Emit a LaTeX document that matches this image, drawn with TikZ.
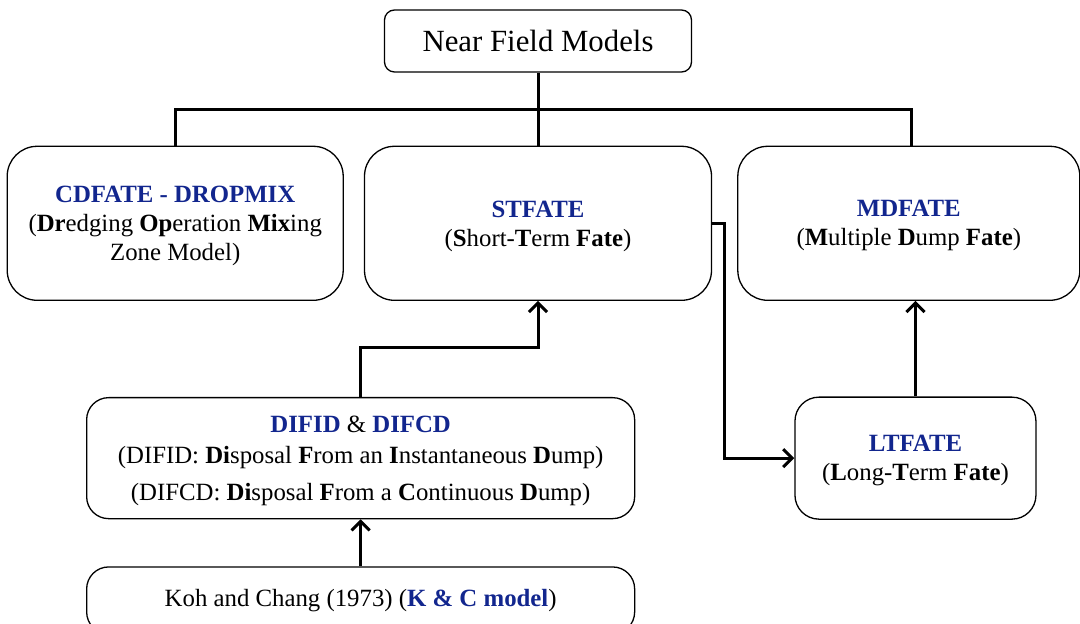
\documentclass[tikz,border=0pt]{standalone}
\usepackage{fontspec}
\setmainfont{Liberation Serif}
\usetikzlibrary{arrows.meta,positioning}
\definecolor{modelblue}{RGB}{18,38,142}
\newcommand{\mname}[1]{\textcolor{modelblue}{\textbf{#1}}}

\begin{document}
\begin{tikzpicture}[
		node distance=20pt,
		box/.style={draw, line width=0.65pt, fill=white, align=center, font=\fontsize{12.4}{14.5}\selectfont},
		lowered/.style={text depth=-3.5pt},
		rootbox/.style={box, rounded corners=5pt, minimum width=153.5pt, minimum height=31pt, font=\fontsize{15.4}{18}\selectfont},
		modelbox/.style={box, lowered, rounded corners=15pt, minimum width=171pt, minimum height=77pt},
		lowbox/.style={box, rounded corners=11pt, minimum width=274pt},
		link/.style={line width=1.5pt},
		flow/.style={link, -{Straight Barb[length=4.5pt,width=9pt]}},
	]
		\useasboundingbox (0,0) rectangle (540pt,-312pt);
		\node [rootbox] (root) at (269pt,-20.5pt) {Near Field Models};
		\node [modelbox, minimum width=173.5pt, below=36.5pt of root] (st) {\mname{STFATE}\\(\textbf{S}hort-\textbf{T}erm \textbf{Fate})};
		\node [modelbox, minimum width=168pt, left=10pt of st] (cd) {\mname{CDFATE - DROPMIX}\\(\textbf{Dr}edging \textbf{Op}eration \textbf{Mix}ing\\Zone Model)};
		\node [modelbox, right=12.5pt of st] (md) {\mname{MDFATE}\\(\textbf{M}ultiple \textbf{D}ump \textbf{Fate})};
		\node [lowbox, lowered, minimum height=60.5pt, anchor=north west, font=\fontsize{12.4}{15.5}\selectfont] (difid) at (43pt,-198.5pt) {\mname{DIFID} \& \mname{DIFCD}\\(DIFID: \textbf{Di}sposal \textbf{F}rom an \textbf{I}nstantaneous \textbf{D}ump)\\[3pt](DIFCD: \textbf{Di}sposal \textbf{F}rom a \textbf{C}ontinuous \textbf{D}ump)};
		\node [lowbox, minimum height=33.5pt, below=23.5pt of difid] (koh) {Koh and Chang (1973) (\mname{K \& C model})};
		\node [box, lowered, rounded corners=12pt, minimum width=120.5pt, minimum height=61pt, right=79.5pt of difid] (lt) {\mname{LTFATE}\\(\textbf{L}ong-\textbf{T}erm \textbf{Fate})};

		% tree from the root
		\draw[link] (root.south) -- ++(0,-18.5pt) coordinate (bus);
		\draw[link] (cd.north) |- (bus) -| ([xshift=1.5pt]md.north);
		\draw[link] (bus) -- (st.north);

		\draw[flow] (koh) -- (difid);
		\draw[flow] (difid.north) -- ++(0,24.5pt) -| (st.south);
		\draw[flow] (st.east) -- ++(6pt,0) |- (lt.west);
		\draw[flow] (lt.north) -- (lt.north |- md.south);
	\end{tikzpicture}
\end{document}
